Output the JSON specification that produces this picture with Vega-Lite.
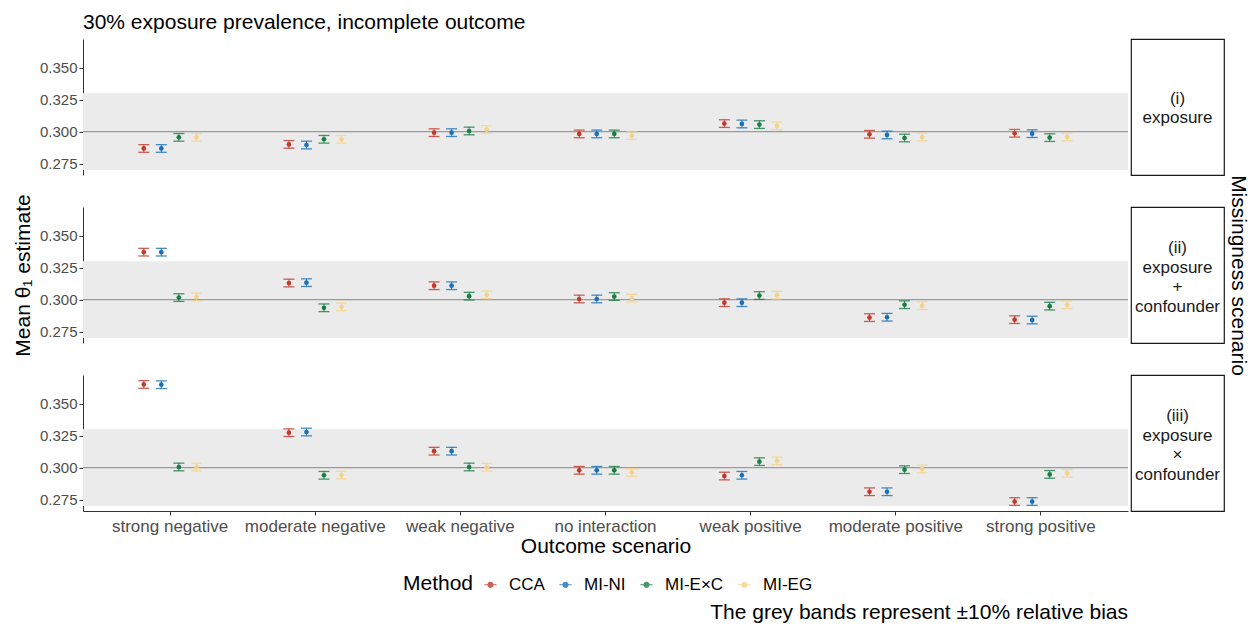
{
  "$schema": "https://vega.github.io/schema/vega-lite/v6.json",
  "background": "white",
  "padding": {"left": 12, "top": 12, "right": 5, "bottom": 5},
  "bounds": "flush",
  "columns": 2,
  "spacing": {"row": 32, "column": 3},
  "datasets": {
    "est": [
      {"s":"i","o":"strong negative","m":"CCA","est":0.2868,"lo":0.2838,"hi":0.2898},
      {"s":"i","o":"strong negative","m":"MI-NI","est":0.2868,"lo":0.2838,"hi":0.2898},
      {"s":"i","o":"strong negative","m":"MI-E×C","est":0.2955,"lo":0.2925,"hi":0.2985},
      {"s":"i","o":"strong negative","m":"MI-EG","est":0.2955,"lo":0.2925,"hi":0.2985},
      {"s":"i","o":"moderate negative","m":"CCA","est":0.2900,"lo":0.2870,"hi":0.2930},
      {"s":"i","o":"moderate negative","m":"MI-NI","est":0.2895,"lo":0.2865,"hi":0.2925},
      {"s":"i","o":"moderate negative","m":"MI-E×C","est":0.2940,"lo":0.2910,"hi":0.2970},
      {"s":"i","o":"moderate negative","m":"MI-EG","est":0.2940,"lo":0.2910,"hi":0.2970},
      {"s":"i","o":"weak negative","m":"CCA","est":0.2992,"lo":0.2962,"hi":0.3022},
      {"s":"i","o":"weak negative","m":"MI-NI","est":0.2992,"lo":0.2962,"hi":0.3022},
      {"s":"i","o":"weak negative","m":"MI-E×C","est":0.3005,"lo":0.2975,"hi":0.3035},
      {"s":"i","o":"weak negative","m":"MI-EG","est":0.3016,"lo":0.2986,"hi":0.3046},
      {"s":"i","o":"no interaction","m":"CCA","est":0.2982,"lo":0.2952,"hi":0.3012},
      {"s":"i","o":"no interaction","m":"MI-NI","est":0.2982,"lo":0.2952,"hi":0.3012},
      {"s":"i","o":"no interaction","m":"MI-E×C","est":0.2982,"lo":0.2952,"hi":0.3012},
      {"s":"i","o":"no interaction","m":"MI-EG","est":0.2968,"lo":0.2938,"hi":0.2998},
      {"s":"i","o":"weak positive","m":"CCA","est":0.3063,"lo":0.3033,"hi":0.3093},
      {"s":"i","o":"weak positive","m":"MI-NI","est":0.3060,"lo":0.3030,"hi":0.3090},
      {"s":"i","o":"weak positive","m":"MI-E×C","est":0.3055,"lo":0.3025,"hi":0.3085},
      {"s":"i","o":"weak positive","m":"MI-EG","est":0.3045,"lo":0.3015,"hi":0.3075},
      {"s":"i","o":"moderate positive","m":"CCA","est":0.2979,"lo":0.2949,"hi":0.3009},
      {"s":"i","o":"moderate positive","m":"MI-NI","est":0.2974,"lo":0.2944,"hi":0.3004},
      {"s":"i","o":"moderate positive","m":"MI-E×C","est":0.2950,"lo":0.2920,"hi":0.2980},
      {"s":"i","o":"moderate positive","m":"MI-EG","est":0.2958,"lo":0.2928,"hi":0.2988},
      {"s":"i","o":"strong positive","m":"CCA","est":0.2987,"lo":0.2957,"hi":0.3017},
      {"s":"i","o":"strong positive","m":"MI-NI","est":0.2984,"lo":0.2954,"hi":0.3014},
      {"s":"i","o":"strong positive","m":"MI-E×C","est":0.2953,"lo":0.2923,"hi":0.2983},
      {"s":"i","o":"strong positive","m":"MI-EG","est":0.2958,"lo":0.2928,"hi":0.2988},

      {"s":"ii","o":"strong negative","m":"CCA","est":0.3372,"lo":0.3342,"hi":0.3402},
      {"s":"ii","o":"strong negative","m":"MI-NI","est":0.3372,"lo":0.3342,"hi":0.3402},
      {"s":"ii","o":"strong negative","m":"MI-E×C","est":0.3016,"lo":0.2986,"hi":0.3046},
      {"s":"ii","o":"strong negative","m":"MI-EG","est":0.3021,"lo":0.2991,"hi":0.3051},
      {"s":"ii","o":"moderate negative","m":"CCA","est":0.3130,"lo":0.3100,"hi":0.3160},
      {"s":"ii","o":"moderate negative","m":"MI-NI","est":0.3133,"lo":0.3103,"hi":0.3163},
      {"s":"ii","o":"moderate negative","m":"MI-E×C","est":0.2936,"lo":0.2906,"hi":0.2966},
      {"s":"ii","o":"moderate negative","m":"MI-EG","est":0.2944,"lo":0.2914,"hi":0.2974},
      {"s":"ii","o":"weak negative","m":"CCA","est":0.3109,"lo":0.3079,"hi":0.3139},
      {"s":"ii","o":"weak negative","m":"MI-NI","est":0.3109,"lo":0.3079,"hi":0.3139},
      {"s":"ii","o":"weak negative","m":"MI-E×C","est":0.3027,"lo":0.2997,"hi":0.3057},
      {"s":"ii","o":"weak negative","m":"MI-EG","est":0.3037,"lo":0.3007,"hi":0.3067},
      {"s":"ii","o":"no interaction","m":"CCA","est":0.3005,"lo":0.2975,"hi":0.3035},
      {"s":"ii","o":"no interaction","m":"MI-NI","est":0.3005,"lo":0.2975,"hi":0.3035},
      {"s":"ii","o":"no interaction","m":"MI-E×C","est":0.3024,"lo":0.2994,"hi":0.3054},
      {"s":"ii","o":"no interaction","m":"MI-EG","est":0.3011,"lo":0.2981,"hi":0.3041},
      {"s":"ii","o":"weak positive","m":"CCA","est":0.2976,"lo":0.2946,"hi":0.3006},
      {"s":"ii","o":"weak positive","m":"MI-NI","est":0.2976,"lo":0.2946,"hi":0.3006},
      {"s":"ii","o":"weak positive","m":"MI-E×C","est":0.3032,"lo":0.3002,"hi":0.3062},
      {"s":"ii","o":"weak positive","m":"MI-EG","est":0.3035,"lo":0.3005,"hi":0.3065},
      {"s":"ii","o":"moderate positive","m":"CCA","est":0.2859,"lo":0.2829,"hi":0.2889},
      {"s":"ii","o":"moderate positive","m":"MI-NI","est":0.2862,"lo":0.2832,"hi":0.2892},
      {"s":"ii","o":"moderate positive","m":"MI-E×C","est":0.2960,"lo":0.2930,"hi":0.2990},
      {"s":"ii","o":"moderate positive","m":"MI-EG","est":0.2952,"lo":0.2922,"hi":0.2982},
      {"s":"ii","o":"strong positive","m":"CCA","est":0.2843,"lo":0.2813,"hi":0.2873},
      {"s":"ii","o":"strong positive","m":"MI-NI","est":0.2840,"lo":0.2810,"hi":0.2870},
      {"s":"ii","o":"strong positive","m":"MI-E×C","est":0.2949,"lo":0.2919,"hi":0.2979},
      {"s":"ii","o":"strong positive","m":"MI-EG","est":0.2960,"lo":0.2930,"hi":0.2990},

      {"s":"iii","o":"strong negative","m":"CCA","est":0.3652,"lo":0.3622,"hi":0.3682},
      {"s":"iii","o":"strong negative","m":"MI-NI","est":0.3650,"lo":0.3620,"hi":0.3680},
      {"s":"iii","o":"strong negative","m":"MI-E×C","est":0.3005,"lo":0.2975,"hi":0.3035},
      {"s":"iii","o":"strong negative","m":"MI-EG","est":0.3005,"lo":0.2975,"hi":0.3035},
      {"s":"iii","o":"moderate negative","m":"CCA","est":0.3274,"lo":0.3244,"hi":0.3304},
      {"s":"iii","o":"moderate negative","m":"MI-NI","est":0.3279,"lo":0.3249,"hi":0.3309},
      {"s":"iii","o":"moderate negative","m":"MI-E×C","est":0.2940,"lo":0.2910,"hi":0.2970},
      {"s":"iii","o":"moderate negative","m":"MI-EG","est":0.2942,"lo":0.2912,"hi":0.2972},
      {"s":"iii","o":"weak negative","m":"CCA","est":0.3129,"lo":0.3099,"hi":0.3159},
      {"s":"iii","o":"weak negative","m":"MI-NI","est":0.3129,"lo":0.3099,"hi":0.3159},
      {"s":"iii","o":"weak negative","m":"MI-E×C","est":0.3005,"lo":0.2975,"hi":0.3035},
      {"s":"iii","o":"weak negative","m":"MI-EG","est":0.3003,"lo":0.2973,"hi":0.3033},
      {"s":"iii","o":"no interaction","m":"CCA","est":0.2979,"lo":0.2949,"hi":0.3009},
      {"s":"iii","o":"no interaction","m":"MI-NI","est":0.2979,"lo":0.2949,"hi":0.3009},
      {"s":"iii","o":"no interaction","m":"MI-E×C","est":0.2979,"lo":0.2949,"hi":0.3009},
      {"s":"iii","o":"no interaction","m":"MI-EG","est":0.2963,"lo":0.2933,"hi":0.2993},
      {"s":"iii","o":"weak positive","m":"CCA","est":0.2934,"lo":0.2904,"hi":0.2964},
      {"s":"iii","o":"weak positive","m":"MI-NI","est":0.2940,"lo":0.2910,"hi":0.2970},
      {"s":"iii","o":"weak positive","m":"MI-E×C","est":0.3047,"lo":0.3017,"hi":0.3077},
      {"s":"iii","o":"weak positive","m":"MI-EG","est":0.3053,"lo":0.3023,"hi":0.3083},
      {"s":"iii","o":"moderate positive","m":"CCA","est":0.2811,"lo":0.2781,"hi":0.2841},
      {"s":"iii","o":"moderate positive","m":"MI-NI","est":0.2811,"lo":0.2781,"hi":0.2841},
      {"s":"iii","o":"moderate positive","m":"MI-E×C","est":0.2984,"lo":0.2954,"hi":0.3014},
      {"s":"iii","o":"moderate positive","m":"MI-EG","est":0.2989,"lo":0.2959,"hi":0.3019},
      {"s":"iii","o":"strong positive","m":"CCA","est":0.2734,"lo":0.2704,"hi":0.2764},
      {"s":"iii","o":"strong positive","m":"MI-NI","est":0.2734,"lo":0.2704,"hi":0.2764},
      {"s":"iii","o":"strong positive","m":"MI-E×C","est":0.2947,"lo":0.2917,"hi":0.2977},
      {"s":"iii","o":"strong positive","m":"MI-EG","est":0.2955,"lo":0.2925,"hi":0.2985}
    ],
    "bands": [{"lo": 0.27, "hi": 0.33, "ref": 0.3}],
    "strips": [
      {"s": "i", "label": "(i)\nexposure"},
      {"s": "ii", "label": "(ii)\nexposure\n+\nconfounder"},
      {"s": "iii", "label": "(iii)\nexposure\n×\nconfounder"}
    ]
  },
  "config": {
    "font": "Liberation Sans",
    "view": {"stroke": null},
    "axis": {"grid": false, "labelFontSize": 15, "labelColor": "#4d4d4d", "tickColor": "#333333", "domainColor": "#333333", "tickSize": 4, "titleFontSize": 21, "titleFontWeight": "normal", "titleColor": "black", "labelPadding": 2},
    "title": {"fontWeight": "normal", "color": "black", "fontSize": 21},
    "legend": {"orient": "none", "legendX": 320, "legendY": 537, "direction": "horizontal", "titleOrient": "left", "titleFontSize": 21, "titleFontWeight": "normal", "titleColor": "black", "labelFontSize": 17, "labelColor": "black", "symbolType": "M-1,0L1,0M-0.4,0a0.4,0.4 0 1,0 0.8,0a0.4,0.4 0 1,0 -0.8,0", "symbolSize": 150, "symbolStrokeWidth": 1.2, "columnPadding": 11, "titlePadding": 8, "labelOffset": 10}
  },
  "resolve": {"scale": {"x": "independent", "y": "independent"}},
  "concat": [
    {
      "width": 1045, "height": 136,
      "title": {"text": "30% exposure prevalence, incomplete outcome", "anchor": "start", "frame": "group", "offset": 6},
      "layer": [
        {"data": {"name": "bands"}, "mark": {"type": "rect", "color": "#ebebeb"}, "encoding": {"y": {"field": "lo", "type": "quantitative", "scale": {"domain": [0.266, 0.3726], "nice": false, "zero": false}, "axis": {"values": [0.275, 0.3, 0.325, 0.35], "format": ".3f", "title": null}}, "y2": {"field": "hi"}}},
        {"data": {"name": "bands"}, "mark": {"type": "rule", "color": "#9a9a9a", "strokeWidth": 1.3}, "encoding": {"y": {"field": "ref", "type": "quantitative"}}},
        {"data": {"name": "est"}, "transform": [{"filter": "datum.s == 'i'"}], "mark": {"type": "rule", "strokeWidth": 1.1, "opacity": 0.8}, "encoding": {"x": {"field": "o", "type": "nominal", "sort": null, "scale": {"domain": ["strong negative", "moderate negative", "weak negative", "no interaction", "weak positive", "moderate positive", "strong positive"], "paddingInner": 0.517, "paddingOuter": 0.3585}, "axis": null}, "xOffset": {"field": "m", "type": "nominal", "scale": {"domain": ["CCA", "MI-NI", "MI-E×C", "MI-EG"], "paddingInner": 0, "paddingOuter": 0}}, "y": {"field": "lo", "type": "quantitative"}, "y2": {"field": "hi"}, "color": {"field": "m", "type": "nominal", "title": "Method", "scale": {"domain": ["CCA", "MI-NI", "MI-E×C", "MI-EG"], "range": ["#c0392b", "#1a6fb8", "#1b7d46", "#f5d28a"]}}}},
        {"data": {"name": "est"}, "transform": [{"filter": "datum.s == 'i'"}], "mark": {"type": "tick", "orient": "horizontal", "size": 11, "thickness": 1.3, "opacity": 0.8}, "encoding": {"x": {"field": "o", "type": "nominal"}, "xOffset": {"field": "m", "type": "nominal"}, "y": {"field": "lo", "type": "quantitative"}, "color": {"field": "m", "type": "nominal"}}},
        {"data": {"name": "est"}, "transform": [{"filter": "datum.s == 'i'"}], "mark": {"type": "tick", "orient": "horizontal", "size": 11, "thickness": 1.3, "opacity": 0.8}, "encoding": {"x": {"field": "o", "type": "nominal"}, "xOffset": {"field": "m", "type": "nominal"}, "y": {"field": "hi", "type": "quantitative"}, "color": {"field": "m", "type": "nominal"}}},
        {"data": {"name": "est"}, "transform": [{"filter": "datum.s == 'i'"}], "mark": {"type": "circle", "size": 22, "opacity": 1}, "encoding": {"x": {"field": "o", "type": "nominal"}, "xOffset": {"field": "m", "type": "nominal"}, "y": {"field": "est", "type": "quantitative"}, "color": {"field": "m", "type": "nominal"}}}
      ]
    },
    {
      "width": 93, "height": 136,
      "view": {"stroke": "#1a1a1a", "strokeWidth": 1.2, "fill": "white"},
      "data": {"name": "strips"},
      "transform": [{"filter": "datum.s == 'i'"}],
      "mark": {"type": "text", "fontSize": 17, "lineBreak": "\n", "lineHeight": 19, "dy": -8, "color": "#1a1a1a"},
      "encoding": {
        "text": {"field": "label"},
        "x": {"field": "s", "type": "nominal", "axis": null, "scale": {"paddingInner": 0, "paddingOuter": 0}},
        "y": {"field": "s", "type": "nominal", "axis": null, "scale": {"paddingInner": 0, "paddingOuter": 0}}
      }
    },
    {
      "width": 1045, "height": 136,
      "layer": [
        {"data": {"name": "bands"}, "mark": {"type": "rect", "color": "#ebebeb"}, "encoding": {"y": {"field": "lo", "type": "quantitative", "scale": {"domain": [0.266, 0.3726], "nice": false, "zero": false}, "axis": {"values": [0.275, 0.3, 0.325, 0.35], "format": ".3f", "title": "Mean θ₁ estimate", "titlePadding": 6}}, "y2": {"field": "hi"}}},
        {"data": {"name": "bands"}, "mark": {"type": "rule", "color": "#9a9a9a", "strokeWidth": 1.3}, "encoding": {"y": {"field": "ref", "type": "quantitative"}}},
        {"data": {"name": "est"}, "transform": [{"filter": "datum.s == 'ii'"}], "mark": {"type": "rule", "strokeWidth": 1.1, "opacity": 0.8}, "encoding": {"x": {"field": "o", "type": "nominal", "sort": null, "scale": {"domain": ["strong negative", "moderate negative", "weak negative", "no interaction", "weak positive", "moderate positive", "strong positive"], "paddingInner": 0.517, "paddingOuter": 0.3585}, "axis": null}, "xOffset": {"field": "m", "type": "nominal", "scale": {"domain": ["CCA", "MI-NI", "MI-E×C", "MI-EG"], "paddingInner": 0, "paddingOuter": 0}}, "y": {"field": "lo", "type": "quantitative"}, "y2": {"field": "hi"}, "color": {"field": "m", "type": "nominal", "title": "Method", "scale": {"domain": ["CCA", "MI-NI", "MI-E×C", "MI-EG"], "range": ["#c0392b", "#1a6fb8", "#1b7d46", "#f5d28a"]}}}},
        {"data": {"name": "est"}, "transform": [{"filter": "datum.s == 'ii'"}], "mark": {"type": "tick", "orient": "horizontal", "size": 11, "thickness": 1.3, "opacity": 0.8}, "encoding": {"x": {"field": "o", "type": "nominal"}, "xOffset": {"field": "m", "type": "nominal"}, "y": {"field": "lo", "type": "quantitative"}, "color": {"field": "m", "type": "nominal"}}},
        {"data": {"name": "est"}, "transform": [{"filter": "datum.s == 'ii'"}], "mark": {"type": "tick", "orient": "horizontal", "size": 11, "thickness": 1.3, "opacity": 0.8}, "encoding": {"x": {"field": "o", "type": "nominal"}, "xOffset": {"field": "m", "type": "nominal"}, "y": {"field": "hi", "type": "quantitative"}, "color": {"field": "m", "type": "nominal"}}},
        {"data": {"name": "est"}, "transform": [{"filter": "datum.s == 'ii'"}], "mark": {"type": "circle", "size": 22, "opacity": 1}, "encoding": {"x": {"field": "o", "type": "nominal"}, "xOffset": {"field": "m", "type": "nominal"}, "y": {"field": "est", "type": "quantitative"}, "color": {"field": "m", "type": "nominal"}}}
      ]
    },
    {
      "width": 93, "height": 136,
      "view": {"stroke": "#1a1a1a", "strokeWidth": 1.2, "fill": "white"},
      "data": {"name": "strips"},
      "transform": [{"filter": "datum.s == 'ii'"}],
      "mark": {"type": "text", "fontSize": 17, "lineBreak": "\n", "lineHeight": 19.5, "dy": -27, "color": "#1a1a1a"},
      "encoding": {
        "text": {"field": "label"},
        "x": {"field": "s", "type": "nominal", "axis": null, "scale": {"paddingInner": 0, "paddingOuter": 0}},
        "y": {"field": "s", "type": "nominal", "axis": {"orient": "right", "title": "Missingness scenario", "labels": false, "ticks": false, "domain": false, "titleAngle": 90, "titleFontSize": 21, "titlePadding": 3}, "scale": {"paddingInner": 0, "paddingOuter": 0}}
      }
    },
    {
      "width": 1045, "height": 136,
      "title": {"text": "The grey bands represent ±10% relative bias", "orient": "bottom", "anchor": "end", "frame": "group", "offset": 46},
      "layer": [
        {"data": {"name": "bands"}, "mark": {"type": "rect", "color": "#ebebeb"}, "encoding": {"y": {"field": "lo", "type": "quantitative", "scale": {"domain": [0.266, 0.3726], "nice": false, "zero": false}, "axis": {"values": [0.275, 0.3, 0.325, 0.35], "format": ".3f", "title": null}}, "y2": {"field": "hi"}}},
        {"data": {"name": "bands"}, "mark": {"type": "rule", "color": "#9a9a9a", "strokeWidth": 1.3}, "encoding": {"y": {"field": "ref", "type": "quantitative"}}},
        {"data": {"name": "est"}, "transform": [{"filter": "datum.s == 'iii'"}], "mark": {"type": "rule", "strokeWidth": 1.1, "opacity": 0.8}, "encoding": {"x": {"field": "o", "type": "nominal", "sort": null, "scale": {"domain": ["strong negative", "moderate negative", "weak negative", "no interaction", "weak positive", "moderate positive", "strong positive"], "paddingInner": 0.517, "paddingOuter": 0.3585}, "axis": {"title": "Outcome scenario", "labelAngle": 0, "labelPadding": 3, "titlePadding": 1, "labelFontSize": 17}}, "xOffset": {"field": "m", "type": "nominal", "scale": {"domain": ["CCA", "MI-NI", "MI-E×C", "MI-EG"], "paddingInner": 0, "paddingOuter": 0}}, "y": {"field": "lo", "type": "quantitative"}, "y2": {"field": "hi"}, "color": {"field": "m", "type": "nominal", "title": "Method", "scale": {"domain": ["CCA", "MI-NI", "MI-E×C", "MI-EG"], "range": ["#c0392b", "#1a6fb8", "#1b7d46", "#f5d28a"]}}}},
        {"data": {"name": "est"}, "transform": [{"filter": "datum.s == 'iii'"}], "mark": {"type": "tick", "orient": "horizontal", "size": 11, "thickness": 1.3, "opacity": 0.8}, "encoding": {"x": {"field": "o", "type": "nominal"}, "xOffset": {"field": "m", "type": "nominal"}, "y": {"field": "lo", "type": "quantitative"}, "color": {"field": "m", "type": "nominal"}}},
        {"data": {"name": "est"}, "transform": [{"filter": "datum.s == 'iii'"}], "mark": {"type": "tick", "orient": "horizontal", "size": 11, "thickness": 1.3, "opacity": 0.8}, "encoding": {"x": {"field": "o", "type": "nominal"}, "xOffset": {"field": "m", "type": "nominal"}, "y": {"field": "hi", "type": "quantitative"}, "color": {"field": "m", "type": "nominal"}}},
        {"data": {"name": "est"}, "transform": [{"filter": "datum.s == 'iii'"}], "mark": {"type": "circle", "size": 22, "opacity": 1}, "encoding": {"x": {"field": "o", "type": "nominal"}, "xOffset": {"field": "m", "type": "nominal"}, "y": {"field": "est", "type": "quantitative"}, "color": {"field": "m", "type": "nominal"}}}
      ]
    },
    {
      "width": 93, "height": 136,
      "view": {"stroke": "#1a1a1a", "strokeWidth": 1.2, "fill": "white"},
      "data": {"name": "strips"},
      "transform": [{"filter": "datum.s == 'iii'"}],
      "mark": {"type": "text", "fontSize": 17, "lineBreak": "\n", "lineHeight": 19.5, "dy": -27, "color": "#1a1a1a"},
      "encoding": {
        "text": {"field": "label"},
        "x": {"field": "s", "type": "nominal", "axis": null, "scale": {"paddingInner": 0, "paddingOuter": 0}},
        "y": {"field": "s", "type": "nominal", "axis": null, "scale": {"paddingInner": 0, "paddingOuter": 0}}
      }
    }
  ]
}
